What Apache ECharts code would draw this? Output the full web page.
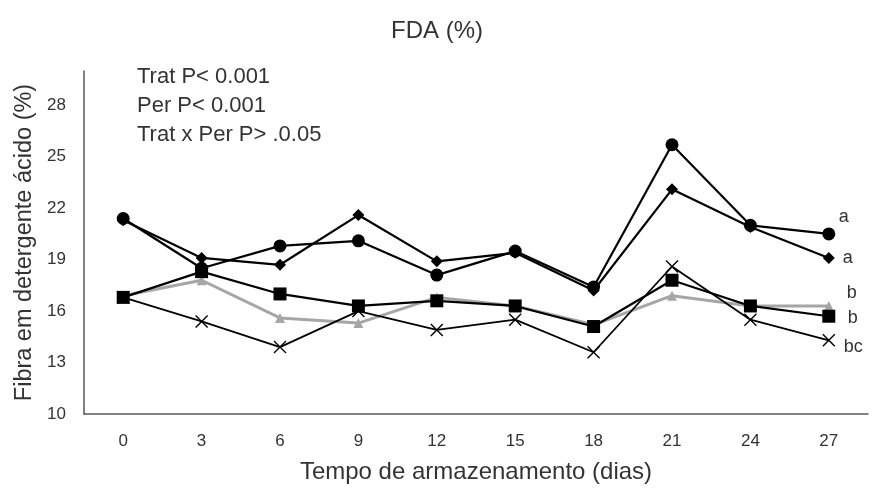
<!DOCTYPE html>
<html>
<head>
<meta charset="utf-8">
<style>
  html, body { margin: 0; padding: 0; background: #fff; }
  #container { width: 874px; height: 492px; }
</style>
<script src="https://cdn.jsdelivr.net/npm/echarts@6/dist/echarts.min.js"></script>
</head>
<body>
<div id="container"></div>
<script>
var dom = document.getElementById('container');
var myChart = echarts.init(dom, null, { renderer: 'canvas' });

// dias de armazenamento
var days = ['0', '3', '6', '9', '12', '15', '18', '21', '24', '27'];

// valores (FDA %)
var circleVals = [21.4, 18.5, 19.8, 20.1, 18.1, 19.5, 17.4, 25.7, 21.0, 20.5];
var diamondVals = [21.3, 19.1, 18.7, 21.6, 18.9, 19.4, 17.2, 23.1, 20.9, 19.1];
var triangleVals = [16.9, 17.8, 15.6, 15.3, 16.8, 16.3, 15.2, 16.9, 16.3, 16.3];
var squareVals = [16.8, 18.3, 17.0, 16.3, 16.6, 16.3, 15.1, 17.8, 16.3, 15.7];
var crossVals = [16.8, 15.4, 13.9, 16.0, 14.9, 15.5, 13.6, 18.6, 15.5, 14.3];

// letras de significancia: circulo, losango, triangulo, quadrado, x
var endLetters = ['a', 'a', 'b', 'b', 'bc'];

var statsLines = ['Trat P< 0.001', 'Per P< 0.001', 'Trat x Per P> .0.05'];

var FONT = "'Liberation Sans', Arial, sans-serif";
var TXT = '#333';

function mkSeries(vals, symbol, size, color, lineWidth, letter, offset, z, cross) {
    return {
        type: 'line',
        data: vals,
        symbol: symbol,
        symbolSize: size,
        z: z,
        lineStyle: { color: color, width: lineWidth },
        itemStyle: cross
            ? { color: color, borderColor: color, borderWidth: 1.4 }
            : { color: color, borderWidth: 0 },
        emphasis: { disabled: true },
        endLabel: {
            show: true,
            formatter: letter,
            distance: 0,
            offset: offset,
            align: 'left',
            verticalAlign: 'middle',
            color: TXT,
            fontFamily: FONT,
            fontSize: 18
        }
    };
}

var option = {
    animation: false,
    title: {
        text: 'FDA (%)',
        left: 'center',
        top: 14,
        textStyle: { fontFamily: FONT, fontSize: 24, fontWeight: 'normal', color: TXT }
    },
    grid: { left: 84, right: 6, top: 71, bottom: 78, containLabel: false, outerBoundsMode: 'none' },
    graphic: [{
        type: 'text',
        left: 137,
        top: 62,
        style: {
            text: statsLines.join('\n'),
            font: '22px ' + FONT,
            lineHeight: 29,
            fill: TXT
        }
    }],
    xAxis: {
        type: 'category',
        data: days,
        boundaryGap: true,
        name: 'Tempo de armazenamento (dias)',
        nameLocation: 'middle',
        nameGap: 46,
        nameTextStyle: { fontFamily: FONT, fontSize: 24, color: TXT },
        axisLine: { show: true, lineStyle: { color: '#595959', width: 1.5 } },
        axisTick: { show: false },
        axisLabel: { margin: 19, fontFamily: FONT, fontSize: 17, color: TXT },
        splitLine: { show: false }
    },
    yAxis: {
        type: 'value',
        min: 10,
        max: 30,
        interval: 3,
        name: 'Fibra em detergente ácido (%)',
        nameLocation: 'middle',
        nameGap: 47,
        nameTextStyle: { fontFamily: FONT, fontSize: 23.5, color: TXT },
        axisLine: { show: true, lineStyle: { color: '#595959', width: 1.5 } },
        axisTick: { show: false },
        axisLabel: { margin: 18, fontFamily: FONT, fontSize: 17, color: TXT, showMaxLabel: false },
        splitLine: { show: false }
    },
    series: [
        mkSeries(triangleVals, 'triangle', 10, '#a6a6a6', 3, endLetters[2], [18, -13], 2, false),
        mkSeries(circleVals, 'circle', 13, '#000', 2.2, endLetters[0], [10, -17], 3, false),
        mkSeries(diamondVals, 'diamond', 12, '#000', 2.2, endLetters[1], [14, 0], 3, false),
        mkSeries(squareVals, 'rect', 13, '#000', 2.2, endLetters[3], [19, 2], 3, false),
        mkSeries(crossVals, 'path://M0,0L10,10M10,0L0,10', 12, '#000', 1.8, endLetters[4], [15, 7], 3, true)
    ]
};

myChart.setOption(option);
window.addEventListener('resize', myChart.resize);
</script>
</body>
</html>
